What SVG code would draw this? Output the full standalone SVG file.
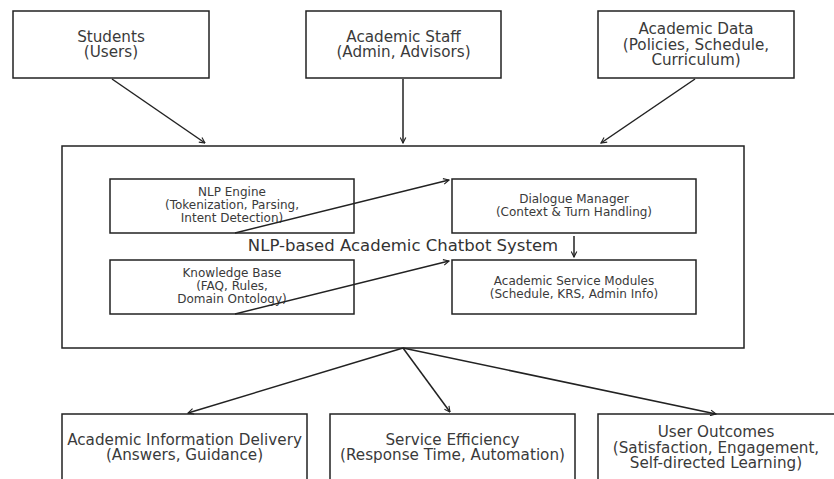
<svg xmlns="http://www.w3.org/2000/svg" width="834" height="479" viewBox="0 0 834 479">
<style>
.box{fill:#fff;stroke:#222;stroke-width:1.5}
.outer{font-family:"DejaVu Sans",sans-serif;font-size:15.2px;fill:#3a3a3a;text-anchor:middle}
.inner{font-family:"DejaVu Sans",sans-serif;font-size:12px;fill:#3a3a3a;text-anchor:middle}
.title{font-family:"DejaVu Sans",sans-serif;font-size:16.5px;fill:#333;text-anchor:middle}
.conn{stroke:#222;stroke-width:1.5;fill:none;marker-end:url(#ah)}
</style>
<defs>
<marker id="ah" viewBox="0 0 10 10" refX="9" refY="5" markerWidth="7" markerHeight="7" markerUnits="userSpaceOnUse" orient="auto">
<path d="M1,1 L9,5 L1,9" fill="none" stroke="#222" stroke-width="1.6"/>
</marker>
</defs>
<rect width="834" height="479" fill="#fff"/>
<g id="students"><rect class="box" x="13" y="11" width="196" height="67"/><text class="outer" x="111" y="42">Students</text><text class="outer" x="111" y="57">(Users)</text></g>
<g id="staff"><rect class="box" x="306" y="11" width="195" height="67"/><text class="outer" x="403.5" y="42">Academic Staff</text><text class="outer" x="403.5" y="57">(Admin, Advisors)</text></g>
<g id="data"><rect class="box" x="598" y="11" width="196" height="67"/><text class="outer" x="696" y="34">Academic Data</text><text class="outer" x="696" y="49.5">(Policies, Schedule,</text><text class="outer" x="696" y="64.5">Curriculum)</text></g>
<g id="system"><rect class="box" x="62" y="146" width="682" height="202"/><text class="title" x="403" y="251">NLP-based Academic Chatbot System</text></g>
<g id="nlp"><rect class="box" x="110" y="179" width="244" height="54"/><text class="inner" x="232" y="196">NLP Engine</text><text class="inner" x="232" y="209">(Tokenization, Parsing,</text><text class="inner" x="232" y="222">Intent Detection)</text></g>
<g id="dialogue"><rect class="box" x="452" y="179" width="244" height="54"/><text class="inner" x="574" y="203">Dialogue Manager</text><text class="inner" x="574" y="216">(Context &amp; Turn Handling)</text></g>
<g id="kb"><rect class="box" x="110" y="260" width="244" height="54"/><text class="inner" x="232" y="277">Knowledge Base</text><text class="inner" x="232" y="290">(FAQ, Rules,</text><text class="inner" x="232" y="303">Domain Ontology)</text></g>
<g id="modules"><rect class="box" x="452" y="260" width="244" height="54"/><text class="inner" x="574" y="285">Academic Service Modules</text><text class="inner" x="574" y="298">(Schedule, KRS, Admin Info)</text></g>
<g id="delivery"><rect class="box" x="62" y="414" width="245" height="80"/><text class="outer" x="184.5" y="445">Academic Information Delivery</text><text class="outer" x="184.5" y="460">(Answers, Guidance)</text></g>
<g id="efficiency"><rect class="box" x="330" y="414" width="245" height="80"/><text class="outer" x="452.5" y="445">Service Efficiency</text><text class="outer" x="452.5" y="460">(Response Time, Automation)</text></g>
<g id="outcomes"><rect class="box" x="598" y="414" width="250" height="80"/><text class="outer" x="716" y="437">User Outcomes</text><text class="outer" x="716" y="453">(Satisfaction, Engagement,</text><text class="outer" x="716" y="468">Self-directed Learning)</text></g>
<g id="connectors">
<line class="conn" x1="112" y1="79" x2="205" y2="143"/>
<line class="conn" x1="403" y1="79" x2="403" y2="143"/>
<line class="conn" x1="695" y1="79" x2="601" y2="143"/>
<line class="conn" x1="235" y1="233" x2="449" y2="180"/>
<line class="conn" x1="235" y1="314" x2="449" y2="261"/>
<line class="conn" x1="574" y1="236" x2="574" y2="257"/>
<line class="conn" x1="403" y1="348" x2="188" y2="413"/>
<line class="conn" x1="403" y1="348" x2="450" y2="412"/>
<line class="conn" x1="403" y1="348" x2="716" y2="414"/>
</g>
</svg>
